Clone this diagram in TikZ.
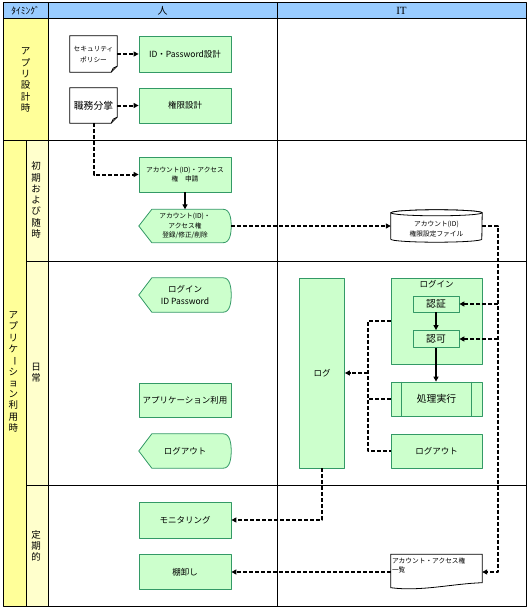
\documentclass[tikz,border=0pt]{standalone}
\usepackage{fontspec}
\usepackage{graphicx}
\setmainfont{Noto Sans CJK JP}
\newfontfamily\itfont{Liberation Serif}
\usetikzlibrary{arrows.meta,backgrounds}
\definecolor{headblue}{HTML}{99CCFF}
\definecolor{timeyellow}{HTML}{FFFF99}
\definecolor{subyellow}{HTML}{FFFFCC}
\definecolor{boxgreen}{HTML}{CCFFCC}
\definecolor{edgegreen}{HTML}{339966}
\begin{document}
\begin{tikzpicture}[x=1pt,y=-1pt,line join=round,>={Triangle[length=5pt,width=5pt]}]
\tikzset{procbox/.style={draw=edgegreen,fill=boxgreen,line width=0.8pt,minimum width=92pt,minimum height=35pt,inner sep=1pt,align=center,font=\fontsize{8.5}{10}\selectfont},
  blank/.style={minimum width=92pt,minimum height=34pt,inner sep=1pt,align=center,font=\fontsize{8.5}{12}\selectfont},
  shapeline/.style={draw=edgegreen,fill=boxgreen,line width=0.8pt},
  paperline/.style={draw=black,fill=white,line width=0.8pt},
  smalltext/.style={font=\fontsize{6.7}{9.5}\selectfont},
  bigtext/.style={font=\fontsize{9.8}{11}\selectfont},
  vtext/.style={align=center,inner sep=0pt,font=\fontsize{9.5}{11.3}\selectfont},
  grid/.style={line width=1pt},
  dashlink/.style={line width=2pt,dash pattern=on 4pt off 2pt},
  solidlink/.style={line width=2pt}}
\useasboundingbox (0,0) rectangle (530,610);
\fill[headblue] (3,3) rectangle (526,19);
\fill[timeyellow] (3,19) rectangle (48,140);
\fill[timeyellow] (3,140) rectangle (26,606);
\fill[subyellow] (26,140) rectangle (48,606);
\draw[grid] (3,3) rectangle (526,606);
\draw[grid] (3,19)--(526,19) (3,140)--(526,140) (48,3)--(48,606) (277,3)--(277,606) (26,140)--(26,606);
\foreach \y in {261,485}
	\draw[grid] (26,\y)--(526,\y);
\node[font=\fontsize{9.5}{9.5}\selectfont] (hdtime) at (25.5,11) {ﾀｲﾐﾝｸﾞ};
\node[font=\fontsize{10}{10}\selectfont] (hdman) at (162.5,11) {人};
\node[font=\itfont\fontsize{11}{11}\selectfont] (hdit) at (401.5,11) {IT};
\node[vtext] (tdesign) at (25.5,80) {ア\\プ\\リ\\設\\計\\時};
\node[vtext] (tuse) at (13.5,372) {ア\\プ\\リ\\ケ\\\rotatebox[origin=c]{-90}{ー}\\シ\\ョ\\ン\\利\\用\\時};
\node[vtext] (tinit) at (36,200) {初\\期\\お\\よ\\び\\随\\時};
\node[vtext] (tdaily) at (36,373) {日\\常};
\node[vtext] (tperiod) at (36,546) {定\\期\\的};
\node[blank,font=\fontsize{6.7}{11}\selectfont,minimum width=47pt,minimum height=36pt] (policy) at (93.5,54) {セキュリティ\\ポリシー};
\node[procbox,minimum height=36pt] (idpw) at (185,54) {ID・Password設計};
\node[blank,bigtext,minimum width=47pt,minimum height=35pt] (duty) at (93.5,105.5) {職務分掌};
\node[procbox] (role) at (185,105.5) {権限設計};
\node[procbox,smalltext] (apply) at (185,174.5) {アカウント(ID)・アクセス\\権　申請};
\node[blank,smalltext,minimum height=33pt] (regist) at (185,226) {アカウント(ID)・\\アクセス権\\登録/修正/削除};
\node[blank,minimum width=91pt,minimum height=32pt] (acfile) at (436.5,226) {};
\node[smalltext,align=center] (acfiletext) at ([yshift=-3pt]acfile.center) {アカウント(ID)\\権限設定ファイル};
\node[blank] (pin) at (185,295) {ログイン\\ID Password};
\node[procbox,minimum height=34pt] (appuse) at (185,400) {アプリケーション利用};
\node[blank] (pout) at (185,451) {ログアウト};
\node[procbox,minimum width=45pt,minimum height=190pt] (logrec) at (322,373) {ログ};
\node[procbox,minimum width=91pt,minimum height=86pt] (itin) at (436.5,321) {};
\node[font=\fontsize{8.5}{10}\selectfont] (itintitle) at ([yshift=-7pt]itin.north) {ログイン};
\node[procbox,bigtext,minimum width=46pt,minimum height=16pt] (authn) at (436,304) {認証};
\node[procbox,bigtext,minimum width=46pt,minimum height=17pt] (authz) at (436,339) {認可};
\node[procbox,bigtext,minimum width=91pt,minimum height=34pt] (exec) at (436.5,399) {処理実行};
\draw[draw=edgegreen,line width=0.8pt] ([xshift=11pt]exec.north west)--([xshift=11pt]exec.south west) ([xshift=-11pt]exec.north east)--([xshift=-11pt]exec.south east);
\node[procbox,minimum width=91pt,minimum height=34pt] (itout) at (436.5,451) {ログアウト};
\node[procbox,minimum height=36pt] (monitor) at (185,520) {モニタリング};
\node[procbox] (audit) at (185,572) {棚卸し};
\node[blank,minimum width=91pt,minimum height=35pt] (aclist) at (436.5,572) {};
\node[smalltext,anchor=north west,align=left,inner sep=1pt] (aclisttext) at ([yshift=-2pt]aclist.north west) {アカウント・アクセス権\\一覧};
\begin{scope}[on background layer]
\foreach \nd in {policy,duty}{
	\draw[paperline] (\nd.north west)--(\nd.north east)--([yshift=6pt]\nd.south east)--([xshift=-6pt]\nd.south east)--(\nd.south west)--cycle;
	\draw[line width=0.8pt] ([yshift=6pt]\nd.south east)--([xshift=-4pt,yshift=4pt]\nd.south east)--([xshift=-6pt]\nd.south east);}
\foreach \nd in {regist,pin,pout}
	\draw[shapeline] (\nd.west)--([xshift=13pt]\nd.north west)--([xshift=-8pt]\nd.north east) .. controls ([xshift=-1pt]\nd.north east) and ([yshift=7pt]\nd.east) .. (\nd.east) .. controls ([yshift=-7pt]\nd.east) and ([xshift=-1pt]\nd.south east) .. ([xshift=-8pt]\nd.south east)--([xshift=13pt]\nd.south west)--cycle;
\draw[paperline] ([yshift=-3pt]acfile.north west)--([yshift=3pt]acfile.south west) arc[start angle=180,end angle=360,x radius=45.5pt,y radius=3pt]--([yshift=-3pt]acfile.north east) arc[start angle=0,end angle=180,x radius=45.5pt,y radius=3pt]--cycle;
\draw[paperline] ([yshift=-3pt]acfile.north) ellipse[x radius=45.5pt,y radius=3pt];
\draw[paperline] (aclist.north west)--(aclist.north east)--([yshift=7pt]aclist.south east) .. controls ([xshift=-30pt,yshift=6pt]aclist.south east) and ([xshift=30pt,yshift=-2pt]aclist.south west) .. ([yshift=2pt]aclist.south west)--cycle;
\end{scope}
\coordinate (rbus) at (498,0);
\coordinate (lbus) at (368,0);
\draw[dashlink,->] (policy)--(idpw);
\draw[dashlink,->] (duty)--(role);
\draw[dashlink,->] (duty.south) |- (apply.west);
\draw[solidlink,->] (apply.south)--(regist.north);
\draw[dashlink,->] (regist.east)--(acfile.west);
\draw[dashlink,->] (acfile.east)--(acfile.east -| rbus) |- (aclist.east);
\draw[dashlink,->] (authn.east -| rbus)--(authn.east);
\draw[dashlink,->] (authz.east -| rbus)--(authz.east);
\draw[solidlink,->] (authn.south)--(authz.north);
\draw[solidlink,->] (authz.south)--(authz.south |- exec.north);
\draw[dashlink] (itin.west)--(itin.west -| lbus) |- (itout.west);
\draw[dashlink] (exec.west)--(exec.west -| lbus);
\draw[dashlink,->] (logrec.east -| lbus)--(logrec.east);
\draw[dashlink,->] (logrec.south) |- (monitor.east);
\draw[dashlink,->] (aclist.west)--(audit.east);
\end{tikzpicture}
\end{document}
